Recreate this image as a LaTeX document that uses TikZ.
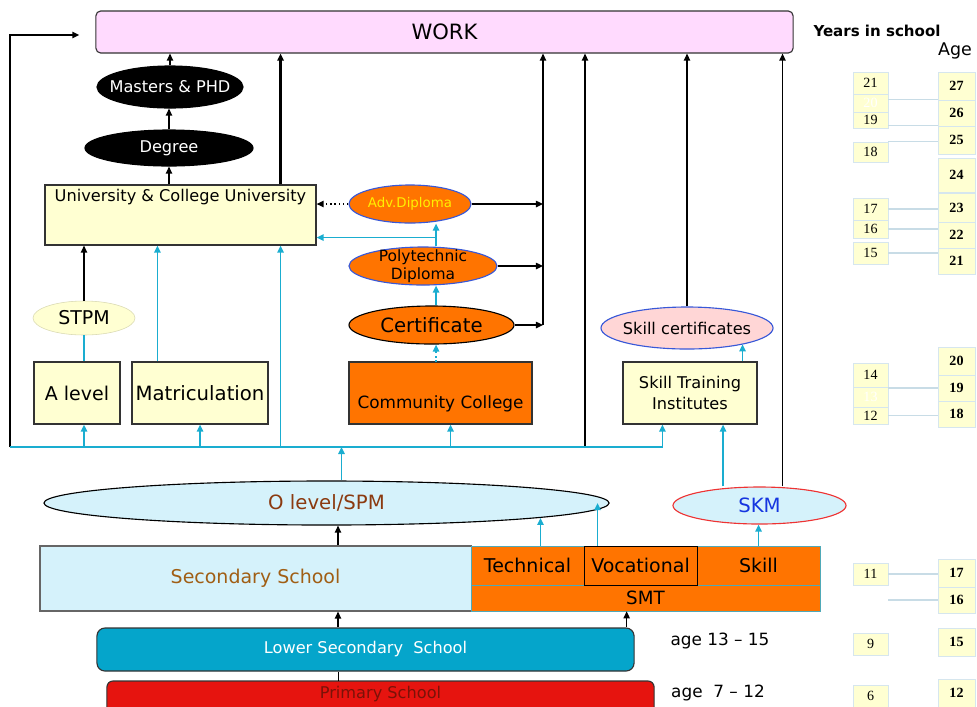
\documentclass[tikz,border=0pt]{standalone}
\usepackage{fontspec}
\setmainfont{DejaVu Sans}
\newfontfamily\numfont{Liberation Serif}
\usepackage{xcolor}
\usetikzlibrary{shapes.geometric,arrows.meta,calc}

\definecolor{workpink}{HTML}{FFDAFE}
\definecolor{cream}{HTML}{FFFFD2}
\definecolor{orng}{HTML}{FF7400}
\definecolor{cyanline}{HTML}{1AADD0}
\definecolor{paleblue}{HTML}{D5F2FB}
\definecolor{brownish}{HTML}{8B3A10}
\definecolor{ochre}{HTML}{A05E14}
\definecolor{lowblue}{HTML}{05A5CB}
\definecolor{primred}{HTML}{E6140F}
\definecolor{darkred}{HTML}{7A1208}
\definecolor{skmblue}{HTML}{1535E0}
\definecolor{ringred}{HTML}{EE3333}
\definecolor{ringblue}{HTML}{3858D8}
\definecolor{rosy}{HTML}{FFD6D6}
\definecolor{tealgray}{HTML}{4FA9B8}
\definecolor{faintline}{HTML}{C8DCE6}
\definecolor{faintbox}{HTML}{D6E6EE}
\definecolor{advyellow}{HTML}{FFF000}

\tikzset{
  box/.style={draw=black!80, fill=cream, line width=0.8pt, inner sep=0pt},
  ell/.style={ellipse, draw, inner sep=0pt, line width=0.8pt},
  arr/.style={-{Triangle[length=5pt,width=4.5pt]}, line width=1pt},
  cyanarr/.style={arr, draw=cyanline, line width=1.2pt},
  cyanl/.style={draw=cyanline, line width=1.2pt},
  yrbox/.style={draw=faintbox, fill=cream, minimum width=0.875cm, inner sep=0pt, font=\numfont\fontsize{10}{11}\selectfont},
  agebox/.style={draw=faintbox, fill=cream, minimum width=0.925cm, inner sep=0pt, font=\numfont\bfseries\fontsize{10}{11}\selectfont},
  link/.style={draw=faintline, line width=0.8pt},
}

\begin{document}
\begin{tikzpicture}[x=0.025cm, y=-0.025cm]
\useasboundingbox (0,0) rectangle (977,706);
% Paths, nodes and wires:
\node[draw=black!80, fill=workpink, rounded corners=0.12cm, line width=0.8pt, minimum width=17.425cm, minimum height=1.05cm, font=\fontsize{15}{18}\selectfont] (work) at (444.5,32) {WORK};
\node[font=\bfseries\fontsize{10.7}{13}\selectfont] (yrs) at (877,31) {Years in school};
\node[font=\fontsize{12.4}{14}\selectfont] (agehd) at (955,51) {Age};

\node[ell, fill=black, minimum width=3.65cm, minimum height=1.05cm, label={[text=white, font=\fontsize{11.5}{13}\selectfont]center:Masters \& PHD}] (masters) at (170,87) {};
\node[ell, fill=black, minimum width=4.2cm, minimum height=0.9cm, label={[text=white, font=\fontsize{11.5}{13}\selectfont]center:Degree}] (degree) at (169,148) {};
\node[box, minimum width=6.775cm, minimum height=1.5cm, label={[anchor=north, font=\fontsize{11.5}{13}\selectfont]north:University \& College University}] (univ) at (180.5,215) {};

\node[ell, fill=orng, draw=ringblue, minimum width=3.05cm, minimum height=0.95cm, label={[text=advyellow, font=\fontsize{9.5}{11}\selectfont]center:Adv.Diploma}] (adv) at (410,204) {};
\node[ell, fill=orng, draw=ringblue, minimum width=3.7cm, minimum height=0.95cm, label={[align=center, font=\fontsize{11}{12.5}\selectfont]center:Polytechnic\\Diploma}] (poly) at (423,266) {};
\node[ell, fill=orng, minimum width=4.125cm, minimum height=0.95cm, label={[font=\fontsize{14}{16}\selectfont]center:Certificate}] (cert) at (431.5,325) {};

\node[ell, fill=cream, draw=cream!85!black, line width=0.4pt, minimum width=2.55cm, minimum height=0.85cm, label={[font=\fontsize{13.5}{15}\selectfont]center:STPM}] (stpm) at (84,318) {};
\node[box, minimum width=2.15cm, minimum height=1.55cm, font=\fontsize{13.5}{15}\selectfont] (alevel) at (77,393) {A level};
\node[box, minimum width=3.4cm, minimum height=1.55cm, font=\fontsize{14}{15}\selectfont] (matric) at (200,393) {Matriculation};
\node[box, fill=orng, minimum width=4.575cm, minimum height=1.55cm, label={[yshift=-7.5pt, font=\fontsize{12}{14}\selectfont]center:Community College}] (cc) at (440.5,393) {};
\node[ell, fill=rosy, draw=ringblue, minimum width=4.3cm, minimum height=1.05cm, label={[font=\fontsize{11.5}{13}\selectfont]center:Skill certificates}] (skc) at (687,328) {};
\node[box, minimum width=3.35cm, minimum height=1.55cm, align=center, font=\fontsize{11.5}{15}\selectfont] (sti) at (690,393) {Skill Training\\Institutes};

\node[ell, fill=paleblue, minimum width=14.125cm, minimum height=1.1cm, label={[text=brownish, font=\fontsize{14}{16}\selectfont]center:O level/SPM}] (olevel) at (326.5,503) {};
\node[ell, fill=paleblue, draw=ringred, minimum width=4.325cm, minimum height=0.925cm, label={[text=skmblue, font=\fontsize{14}{16}\selectfont]center:SKM}] (skm) at (759.5,505.5) {};

\node[box, fill=paleblue, draw=black!60, minimum width=10.775cm, minimum height=1.625cm, text=ochre, font=\fontsize{13.5}{15}\selectfont] (sec) at (255.5,578.5) {Secondary School};
\node[draw=tealgray, fill=orng, inner sep=0pt, minimum width=2.825cm, minimum height=0.975cm, font=\fontsize{13.5}{15}\selectfont] (tech) at (527.5,565.5) {Technical};
\node[draw=tealgray, fill=orng, inner sep=0pt, minimum width=3.075cm, minimum height=0.975cm, font=\fontsize{13.5}{15}\selectfont] (skill) at (758.5,565.5) {Skill};
\node[draw=tealgray, fill=orng, inner sep=0pt, minimum width=8.725cm, minimum height=0.65cm, font=\fontsize{13}{15}\selectfont] (smt) at (645.5,598) {SMT};
\node[draw=black, fill=orng, line width=0.6pt, inner sep=0pt, minimum width=2.825cm, minimum height=0.975cm, font=\fontsize{13.5}{15}\selectfont] (voc) at (640.5,565.5) {Vocational};

\node[draw=black!80, fill=lowblue, line width=0.8pt, rounded corners=0.2cm, minimum width=13.425cm, minimum height=1.075cm, text=white, font=\fontsize{11.5}{13}\selectfont] (lower) at (365.5,649.5) {Lower Secondary\ \ School};
\node[draw=black!80, fill=primred, line width=0.8pt, rounded corners=0.15cm, minimum width=13.675cm, minimum height=0.85cm, label={[yshift=3pt, text=darkred, font=\fontsize{11.5}{13}\selectfont]center:Primary School}] (primary) at (380.5,698) {};
\node[font=\fontsize{12}{14}\selectfont] (age1) at (720,641) {age 13 -- 15};
\node[font=\fontsize{12}{14}\selectfont] (age2) at (718,693) {age\ \ 7 -- 12};

% years in school
\node[yrbox, minimum height=0.55cm] (y21) at (870.5,83) {21};
\node[yrbox, minimum height=0.45cm, text=white] (y20) at (870.5,103) {20};
\node[yrbox, minimum height=0.4cm] (y19) at (870.5,120) {19};
\node[yrbox, minimum height=0.5cm] (y18) at (870.5,152) {18};
\node[yrbox, minimum height=0.55cm] (y17) at (870.5,209) {17};
\node[yrbox, minimum height=0.45cm] (y16) at (870.5,229) {16};
\node[yrbox, minimum height=0.55cm] (y15) at (870.5,253) {15};
\node[yrbox, minimum height=0.6cm] (y14) at (870.5,375) {14};
\node[yrbox, minimum height=0.5cm, text=white] (y13) at (870.5,397) {13};
\node[yrbox, minimum height=0.425cm] (y12) at (870.5,415.5) {12};
\node[yrbox, minimum height=0.55cm] (y11) at (870.5,574) {11};
\node[yrbox, minimum height=0.55cm] (y9) at (870.5,644) {9};
\node[yrbox, minimum height=0.55cm] (y6) at (870.5,696) {6};

% age
\node[agebox, minimum height=0.7cm] (a27) at (956.5,86) {27};
\node[agebox, minimum height=0.65cm] (a26) at (956.5,113) {26};
\node[agebox, minimum height=0.7cm] (a25) at (956.5,140) {25};
\node[agebox, minimum height=0.85cm] (a24) at (956.5,175) {24};
\node[agebox, minimum height=0.725cm] (a23) at (956.5,207.5) {23};
\node[agebox, minimum height=0.65cm] (a22) at (956.5,235) {22};
\node[agebox, minimum height=0.65cm] (a21) at (956.5,261) {21};
\node[agebox, minimum height=0.7cm] (a20) at (956.5,361) {20};
\node[agebox, minimum height=0.65cm] (a19) at (956.5,388) {19};
\node[agebox, minimum height=0.65cm] (a18) at (956.5,414) {18};
\node[agebox, minimum height=0.7cm] (a17) at (956.5,573) {17};
\node[agebox, minimum height=0.65cm] (a16) at (956.5,600) {16};
\node[agebox, minimum height=0.7cm] (a15) at (956.5,642) {15};
\node[agebox, minimum height=0.7cm] (a12) at (956.5,693) {12};

\draw[link] (a26.north west) -- (a26.north west -| y20.east);
\draw[link] (a25.north west) -- (a25.north west -| y19.east);
\draw[link] (y18.north east) -- (y18.north east -| a25.west);
\draw[link] (y17.east) -- (y17.east -| a23.west);
\draw[link] (y16.east) -- (y16.east -| a22.west);
\draw[link] (y15.east) -- (y15.east -| a21.west);
\draw[link] (a19.west) -- (a19.west -| y13.east);
\draw[link] (y12.east) -- (y12.east -| a18.west);
\draw[link] (y11.east) -- (y11.east -| a17.west);
\draw[link] (a16.west) -- (a16.west -| y11.east);

% black routes
\coordinate (uw) at ($(univ.north east)+(-36,0)$);
\coordinate (loop) at (10,447);
\coordinate (rail) at (543,325);
\coordinate (tvet) at (585,447);
\coordinate (skmw) at ($(skm.north)+(23,0)$);
\coordinate (axis) at (338,681);
\coordinate (smtin) at ($(lower.north east)+(-8,0)$);
\draw[arr] (masters.north) -- (masters.north |- work.south);
\draw[arr] (degree.north) -- (degree.north |- masters.south);
\draw[arr] (degree.south |- univ.north) -- (degree.south);
\draw[arr, line width=1.6pt] (uw) -- (uw |- work.south);
\draw[arr, line width=1.6pt] (loop) |- ($(work.west)+(-16,3)$);
\draw[arr, dotted] (adv.west) -- (adv.west -| univ.east);
\draw[arr] (adv.east) -- (adv.east -| rail);
\draw[arr] (poly.east) -- (poly.east -| rail);
\draw[arr] (cert.east) -- (cert.east -| rail);
\draw[arr] (rail) -- (rail |- work.south);
\draw[arr] (stpm.north) -- (stpm.north |- univ.south);
\draw[arr] (tvet) -- (tvet |- work.south);
\draw[arr] (skc.north) -- (skc.north |- work.south);
\draw[arr] (skmw) -- (skmw |- work.south);
\draw (axis) -- (axis |- lower.south);
\draw[arr] (axis |- lower.north) -- (axis |- sec.south);
\draw[arr] (axis |- sec.north) -- (axis |- olevel.south);
\draw[arr] (smtin) -- (smtin |- smt.south);

% cyan routes
\coordinate (mq) at ($(matric.north west)+(26,0)$);
\coordinate (ccin) at ($(cc.south)+(10,0)$);
\coordinate (oup) at ($(olevel.north)+(15,0)$);
\coordinate (dipl) at (436,362);
\coordinate (ubr) at ($(univ.south east)+(0,-8)$);
\coordinate (stiup) at ($(sti.north east)+(-15,0)$);
\coordinate (skmup) at ($(sti.south)+(33,0)$);
\coordinate (techup) at ($(tech.north)+(13,0)$);
\coordinate (vocup) at ($(voc.north west)+(14,0)$);
\draw[cyanarr] (loop) -| ($(sti.south west)+(40,0)$);
\draw[cyanarr] (stpm.south |- loop) -- (stpm.south |- alevel.south);
\draw[cyanl] (stpm.south |- alevel.north) -- (stpm.south);
\draw[cyanarr] (matric.south |- loop) -- (matric.south);
\draw[cyanarr] (mq) -- (mq |- univ.south);
\draw[cyanarr] (uw |- loop) -- (uw |- univ.south);
\draw[cyanarr] (ccin |- loop) -- (ccin);
\draw[cyanarr] (oup) -- (oup |- loop);
\draw[cyanarr, dotted] (dipl) -- (dipl |- cert.south);
\draw[cyanarr] (dipl |- cert.north) -- (dipl |- poly.south);
\draw[cyanarr] (dipl |- poly.north) -- (dipl |- adv.south);
\draw[cyanarr] (dipl |- ubr) -- (ubr);
\draw[cyanarr] (stiup) -- (stiup |- skc.-16);
\draw[cyanarr] (skmup |- skm.north) -- (skmup);
\draw[cyanarr] (techup) -- (techup |- olevel.-4);
\draw[cyanarr] (vocup) -- (vocup |- olevel.east);
\draw[cyanarr] (skill.north) -- (skill.north |- skm.south);
\end{tikzpicture}
\end{document}
